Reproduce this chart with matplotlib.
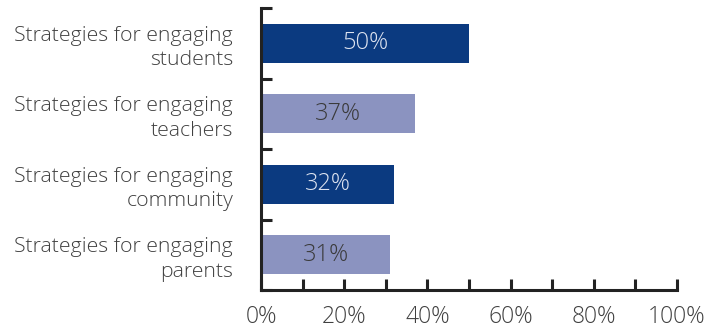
import matplotlib.pyplot as plt
import numpy as np

# data
categories = ['Strategies for engaging\nstudents', 'Strategies for engaging\nteachers',
              'Strategies for engaging\ncommunity', 'Strategies for engaging\nparents']
values = [50, 37, 32, 31]
bar_colors = ['#0b3a80', '#8b93c0', '#0b3a80', '#8b93c0']
text_colors = ['#dde3f0', '#3a3a3a', '#dde3f0', '#3a3a3a']
xticks = [0, 20, 40, 60, 80, 100]
xticklabels = ['0%', '20%', '40%', '60%', '80%', '100%']

plt.rcParams['font.family'] = ['Open Sans', 'DejaVu Sans']
plt.rcParams['font.weight'] = 'light'

fig = plt.figure(figsize=(7.24, 3.30), dpi=100)
ax = fig.add_axes([0.3605, 0.1212, 0.5745, 0.8545])

y = np.arange(len(categories))
ax.barh(y, values, height=0.55, color=bar_colors)
for yi, v, tc in zip(y, values, text_colors):
    ax.text(v / 2, yi, f'{v}%', ha='center', va='center', color=tc, fontsize=17)

ax.set_xlim(0, 100)
ax.set_ylim(len(categories) - 0.5, -0.5)

for s in ['top', 'right']:
    ax.spines[s].set_visible(False)
for s in ['left', 'bottom']:
    ax.spines[s].set_linewidth(2.2)
    ax.spines[s].set_color('#222222')

ax.set_xticks(xticks)
ax.set_xticklabels(xticklabels, fontsize=16.5, color='#404040')
ax.set_xticks(np.arange(10, 100, 20), minor=True)
ax.tick_params(axis='x', which='both', direction='in', length=8, width=2.2,
               color='#222222', pad=11)

ax.set_yticks(np.arange(-0.5, len(categories), 1))
ax.set_yticklabels([])
ax.set_yticks(y, minor=True)
ax.set_yticklabels(categories, minor=True, fontsize=15.3, color='#404040',
                   linespacing=1.3)
ax.tick_params(axis='y', which='minor', length=0, pad=20)
ax.tick_params(axis='y', which='major', direction='in', length=8, width=2.2,
               color='#222222')

fig.savefig('out.png', dpi=100)
